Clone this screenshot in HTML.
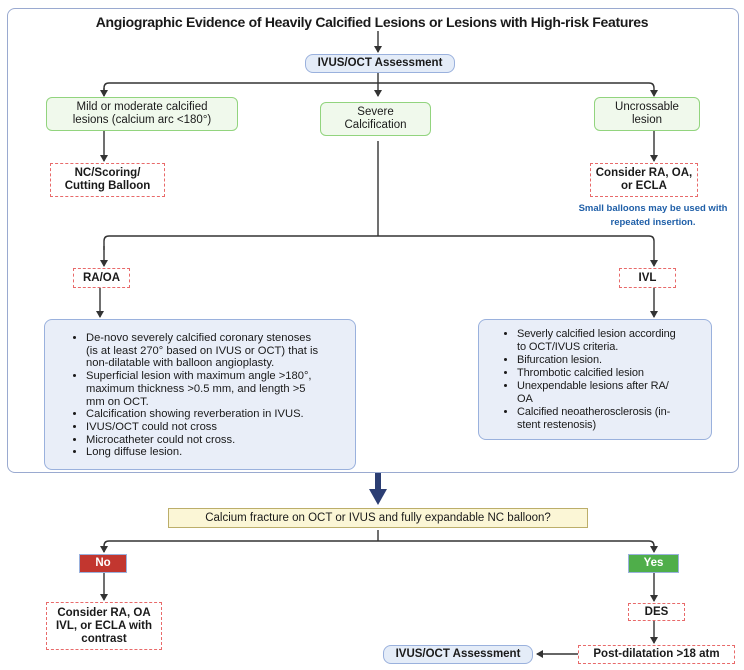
<!DOCTYPE html>
<html><head><meta charset="utf-8">
<style>
body{margin:0;width:744px;height:670px;background:#fff;position:relative;overflow:hidden;font-family:"Liberation Sans",sans-serif;color:#1a1a1a}
.b{position:absolute;box-sizing:border-box;display:flex;align-items:center;justify-content:center;text-align:center;font-size:11.5px;line-height:13px}
.g{background:#f0f9ec;border:1.5px solid #92d47e;border-radius:6px}
.bl{background:#e4ecf8;border:1.5px solid #9ab1dd;border-radius:8px;font-weight:bold}
.r{border:1.5px dashed #e86a6a;font-weight:bold;background:#fff}
.list{position:absolute;box-sizing:border-box;background:#e9eef8;border:1.5px solid #9ab1dd;border-radius:8px;font-size:11px;line-height:13px;letter-spacing:-0.1px}
.list ul{margin:0;padding-left:40px}
.list li{margin:0}
</style></head><body>
<div style="position:absolute;left:7px;top:8px;width:732px;height:465px;box-sizing:border-box;border:1.5px solid #9aaad0;border-radius:8px"></div>
<div style="position:absolute;left:0;width:744px;top:14px;text-align:center;font-weight:bold;font-size:14px;letter-spacing:-0.3px">Angiographic Evidence of Heavily Calcified Lesions or Lesions with High-risk Features</div>
<svg width="744" height="670" style="position:absolute;left:0;top:0">
<defs><marker id="a" markerWidth="8" markerHeight="8" refX="6" refY="4" orient="auto" markerUnits="userSpaceOnUse"><path d="M0,0 L7,4 L0,8 z" fill="#333"/></marker></defs>
<g stroke="#333" stroke-width="1.4" fill="none">
<line x1="378" y1="31" x2="378" y2="52" marker-end="url(#a)"/>
<line x1="378" y1="72" x2="378" y2="96" marker-end="url(#a)"/>
<path d="M104,96 V88 Q104,83 109,83 H649 Q654,83 654,88 V96" marker-end="url(#a)"/>
<path d="M104,88 V96" marker-end="url(#a)"/>
<line x1="104" y1="131" x2="104" y2="161" marker-end="url(#a)"/>
<line x1="654" y1="131" x2="654" y2="161" marker-end="url(#a)"/>
<line x1="378" y1="141" x2="378" y2="236"/>
<path d="M104,250 V241 Q104,236 109,236 H649 Q654,236 654,241 V266" marker-end="url(#a)"/>
<path d="M104,246 V266" marker-end="url(#a)"/>
<line x1="100" y1="288" x2="100" y2="317" marker-end="url(#a)"/>
<line x1="654" y1="288" x2="654" y2="317" marker-end="url(#a)"/>
<line x1="378" y1="530" x2="378" y2="541"/>
<path d="M104,552 V546 Q104,541 109,541 H649 Q654,541 654,546 V552" marker-end="url(#a)"/>
<path d="M104,546 V552" marker-end="url(#a)"/>
<line x1="104" y1="573" x2="104" y2="600" marker-end="url(#a)"/>
<line x1="654" y1="573" x2="654" y2="601" marker-end="url(#a)"/>
<line x1="654" y1="621" x2="654" y2="643" marker-end="url(#a)"/>
<line x1="578" y1="654" x2="537" y2="654" marker-end="url(#a)"/>
</g>
<line x1="378" y1="473" x2="378" y2="492" stroke="#2c3e73" stroke-width="6"/>
<path d="M369,489 L387,489 L378,505 z" fill="#2c3e73"/>
</svg>
<div class="b bl" style="left:305px;top:54px;width:150px;height:19px">IVUS/OCT Assessment</div>
<div class="b g" style="left:46px;top:97px;width:192px;height:34px">Mild or moderate calcified<br>lesions (calcium arc &lt;180°)</div>
<div class="b g" style="left:320px;top:102px;width:111px;height:34px">Severe<br>Calcification</div>
<div class="b g" style="left:594px;top:97px;width:106px;height:34px">Uncrossable<br>lesion</div>
<div class="b r" style="left:50px;top:163px;width:115px;height:34px">NC/Scoring/<br>Cutting Balloon</div>
<div class="b r" style="left:590px;top:163px;width:108px;height:34px">Consider RA, OA,<br>or ECLA</div>
<div style="position:absolute;left:560px;width:186px;top:202px;text-align:center;color:#1f5fa8;font-weight:bold;font-size:9.5px;line-height:13.5px">Small balloons may be used with<br>repeated insertion.</div>
<div class="b r" style="left:73px;top:268px;width:57px;height:20px">RA/OA</div>
<div class="b r" style="left:619px;top:268px;width:57px;height:20px">IVL</div>
<div class="list" style="left:44px;top:319px;width:312px;height:151px;padding-top:12px;padding-right:20px;font-size:11.2px;letter-spacing:0;line-height:12.7px"><ul style="padding-left:41px">
<li>De-novo severely calcified coronary stenoses<br>(is at least 270° based on IVUS or OCT) that is<br>non-dilatable with balloon angioplasty.</li>
<li>Superficial lesion with maximum angle &gt;180°,<br>maximum thickness &gt;0.5 mm, and length &gt;5<br>mm on OCT.</li>
<li>Calcification showing reverberation in IVUS.</li>
<li>IVUS/OCT could not cross</li>
<li>Microcatheter could not cross.</li>
<li>Long diffuse lesion.</li></ul></div>
<div class="list" style="left:478px;top:319px;width:234px;height:121px;padding-top:8px;padding-right:10px"><ul style="padding-left:38px">
<li>Severly calcified lesion according<br>to OCT/IVUS criteria.</li>
<li>Bifurcation lesion.</li>
<li>Thrombotic calcified lesion</li>
<li>Unexpendable lesions after RA/<br>OA</li>
<li>Calcified neoatherosclerosis (in-<br>stent restenosis)</li></ul></div>
<div class="b" style="left:168px;top:508px;width:420px;height:20px;background:#fbf6d6;border:1.5px solid #bcae6a;font-size:11.5px">Calcium fracture on OCT or IVUS and fully expandable NC balloon?</div>
<div class="b" style="left:79px;top:554px;width:48px;height:19px;background:#c2362f;border:1.5px solid #9ab1dd;color:#fff;font-weight:bold">No</div>
<div class="b" style="left:628px;top:554px;width:51px;height:19px;background:#4fae4a;border:1.5px solid #9ab1dd;color:#fff;font-weight:bold">Yes</div>
<div class="b r" style="left:46px;top:602px;width:116px;height:48px">Consider RA, OA<br>IVL, or ECLA with<br>contrast</div>
<div class="b r" style="left:628px;top:603px;width:57px;height:18px">DES</div>
<div class="b r" style="left:578px;top:645px;width:157px;height:19px">Post-dilatation &gt;18 atm</div>
<div class="b bl" style="left:383px;top:645px;width:150px;height:19px">IVUS/OCT Assessment</div>
</body></html>
